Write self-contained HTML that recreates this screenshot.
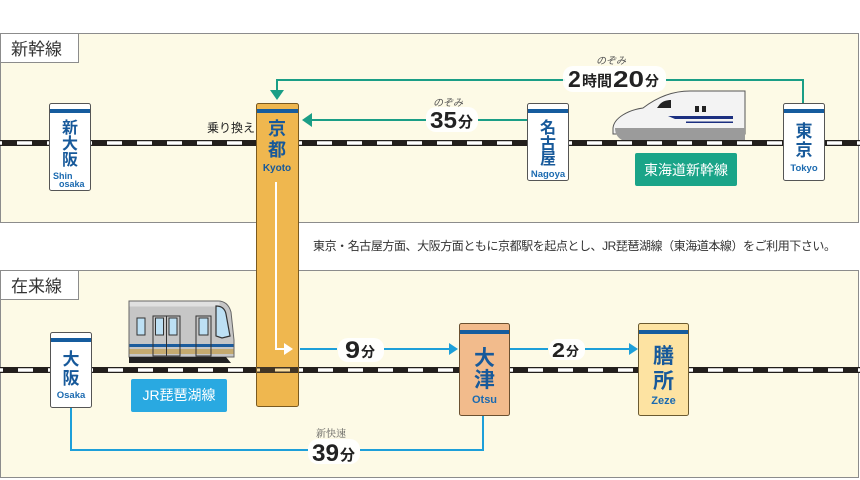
<!DOCTYPE html>
<html><head><meta charset="utf-8"><style>
html,body{margin:0;padding:0;background:#fff;}
svg{display:block;}
.jp{font-family:"Liberation Sans","Noto Sans CJK JP",sans-serif;}
</style></head><body>
<svg width="860" height="480" viewBox="0 0 860 480" xmlns="http://www.w3.org/2000/svg" class="jp">
<rect x="0" y="0" width="860" height="480" fill="#fff"/>
<!-- panels -->
<rect x="0.5" y="33.5" width="858" height="189" fill="#fdfae6" stroke="#8c8c8c"/>
<rect x="0.5" y="270.5" width="858" height="207" fill="#fdfae6" stroke="#8c8c8c"/>
<rect x="0.5" y="33.5" width="78" height="29" fill="#fff" stroke="#8c8c8c"/>
<rect x="0.5" y="270.5" width="78" height="29" fill="#fff" stroke="#8c8c8c"/>
<text x="11" y="55" font-size="17" fill="#333">新幹線</text>
<text x="11" y="292" font-size="17" fill="#333">在来線</text>

<!-- tracks -->
<rect x="0" y="140" width="860" height="6" fill="#231f1c"/>
<line x1="0" y1="143" x2="860" y2="143" stroke="#fff" stroke-width="3.4" stroke-dasharray="15 15" stroke-dashoffset="13"/>
<rect x="0" y="367" width="860" height="6" fill="#231f1c"/>
<line x1="0" y1="370" x2="860" y2="370" stroke="#fff" stroke-width="3.4" stroke-dasharray="15 15" stroke-dashoffset="12"/>

<!-- middle text -->
<text x="313" y="250" font-size="12" fill="#333" textLength="523" lengthAdjust="spacing">東京・名古屋方面、大阪方面ともに京都駅を起点とし、JR琵琶湖線（東海道本線）をご利用下さい。</text>

<!-- Kyoto tall box -->
<rect x="256.5" y="103.5" width="42" height="303" rx="2" fill="#efb74f" stroke="#7a5a20"/>
<rect x="257" y="109" width="41" height="4" fill="#155c9e"/>
<rect x="257" y="367" width="41" height="6" fill="#231f1c" opacity="0.85"/>
<line x1="257" y1="370" x2="298" y2="370" stroke="#f7dca0" stroke-width="3" stroke-dasharray="15 15" stroke-dashoffset="12"/>
<text x="277" y="135" font-size="18" font-weight="bold" fill="#17599a" text-anchor="middle">京</text>
<text x="277" y="156" font-size="18" font-weight="bold" fill="#17599a" text-anchor="middle">都</text>
<text x="277" y="171" font-size="10" font-weight="bold" fill="#17599a" text-anchor="middle">Kyoto</text>
<polyline points="276,182 276,349 286,349" fill="none" stroke="#fff" stroke-width="2"/>
<polygon points="284,343 293,349 284,355" fill="#fff"/>

<text x="207" y="132" font-size="12" fill="#222">乗り換え</text>

<!-- teal lines -->
<polyline points="803,103 803,80 666,80" fill="none" stroke="#1a9e86" stroke-width="2"/>
<polyline points="565,80 277,80 277,92" fill="none" stroke="#1a9e86" stroke-width="2"/>
<polygon points="270,90 284,90 277,100" fill="#1a9e86"/>
<line x1="527" y1="120" x2="478" y2="120" stroke="#1a9e86" stroke-width="2"/>
<line x1="426" y1="120" x2="310" y2="120" stroke="#1a9e86" stroke-width="2"/>
<polygon points="312,113 312,127 302,120" fill="#1a9e86"/>

<!-- 2h20 label -->
<rect x="563" y="66" width="103" height="26" rx="10" fill="#fff" opacity="0.9"/>
<text x="596" y="64" font-size="10" font-style="italic" fill="#555">のぞみ</text>
<text x="568" y="87" font-size="23" font-weight="bold" fill="#222">2</text>
<text x="582" y="86" font-size="15" font-weight="bold" fill="#222">時間</text>
<text x="613" y="87" font-size="23" font-weight="bold" fill="#222" textLength="31" lengthAdjust="spacingAndGlyphs">20</text>
<text x="645" y="86" font-size="14" font-weight="bold" fill="#222">分</text>

<!-- 35 label -->
<rect x="426" y="107" width="52" height="25" rx="10" fill="#fff" opacity="0.9"/>
<text x="433" y="106" font-size="10" font-style="italic" fill="#555">のぞみ</text>
<text x="430" y="128" font-size="23" font-weight="bold" fill="#222" textLength="27" lengthAdjust="spacingAndGlyphs">35</text>
<text x="458" y="127" font-size="15" font-weight="bold" fill="#222">分</text>

<!-- Shin-Osaka -->
<rect x="49.5" y="103.5" width="41" height="87" rx="2" fill="#fff" stroke="#555"/>
<rect x="50" y="109" width="40" height="4" fill="#155c9e"/>
<text x="70" y="133" font-size="16" font-weight="bold" fill="#17599a" text-anchor="middle">新</text>
<text x="70" y="149" font-size="16" font-weight="bold" fill="#17599a" text-anchor="middle">大</text>
<text x="70" y="165" font-size="16" font-weight="bold" fill="#17599a" text-anchor="middle">阪</text>
<text x="53" y="179" font-size="9" font-weight="bold" fill="#1b6ab0">Shin</text>
<text x="59" y="187" font-size="9" font-weight="bold" fill="#1b6ab0">osaka</text>

<!-- Nagoya -->
<rect x="527.5" y="103.5" width="41" height="77" rx="2" fill="#fff" stroke="#555"/>
<rect x="528" y="109" width="40" height="4" fill="#155c9e"/>
<text x="548" y="133" font-size="16" font-weight="bold" fill="#17599a" text-anchor="middle">名</text>
<text x="548" y="149" font-size="16" font-weight="bold" fill="#17599a" text-anchor="middle">古</text>
<text x="548" y="164" font-size="16" font-weight="bold" fill="#17599a" text-anchor="middle">屋</text>
<text x="548" y="177" font-size="9.5" font-weight="bold" fill="#1b6ab0" text-anchor="middle">Nagoya</text>

<!-- Shinkansen train -->
<path d="M745,91 L690,91 C672,91 656,98 643,108 C628,110 614,118 613,128 L613,134 L745,134 Z" fill="#f3f3f3" stroke="#555" stroke-width="1"/>
<path d="M615,128 L745,128 L745,140 L622,140 C618,138 615,134 615,128 Z" fill="#9b9b9b"/>
<path d="M660,104 C663,101 667,100 671,100 L671,108 L657,108 Z" fill="#222"/>
<rect x="695" y="106" width="4" height="6" fill="#222"/>
<rect x="702" y="106" width="4" height="6" fill="#222"/>
<path d="M668,116 L733,116 L733,119 L675,119 Z" fill="#1b2f80"/>
<rect x="686" y="121.5" width="47" height="1.5" fill="#1b2f80"/>

<rect x="635" y="153" width="102" height="33" rx="2" fill="#1aa488"/>
<text x="686" y="175" font-size="14" fill="#fff" text-anchor="middle">東海道新幹線</text>

<!-- Tokyo -->
<rect x="783.5" y="103.5" width="41" height="77" rx="2" fill="#fff" stroke="#555"/>
<rect x="784" y="109" width="40" height="4" fill="#155c9e"/>
<text x="804" y="137" font-size="17" font-weight="bold" fill="#17599a" text-anchor="middle">東</text>
<text x="804" y="156" font-size="17" font-weight="bold" fill="#17599a" text-anchor="middle">京</text>
<text x="804" y="171" font-size="9.5" font-weight="bold" fill="#1b6ab0" text-anchor="middle">Tokyo</text>

<!-- JR train -->
<path d="M129,301 L218,301 C225,301 229,305 231,312 L234,340 L234,357 L129,357 Z" fill="#c6c6c6" stroke="#666" stroke-width="1"/>
<rect x="129.5" y="301.5" width="90" height="5" fill="#e0e0e0"/>
<path d="M216,306 C222,306 225,309 226,314 L230,336 L222,338 L216,336 Z" fill="#bde0f4" stroke="#333" stroke-width="1.2"/>
<rect x="129.5" y="344" width="104" height="3" fill="#1c5c9c"/>
<rect x="129.5" y="349" width="104" height="5" fill="#c4aa70"/>
<path d="M129,357 L226,357 L231,363 L129,363 Z" fill="#222"/>
<rect x="137" y="318" width="8" height="17" fill="#bde0f4" stroke="#333" stroke-width="1"/>
<rect x="153" y="316" width="27" height="40" fill="none" stroke="#333" stroke-width="1"/>
<line x1="166.5" y1="316" x2="166.5" y2="356" stroke="#333" stroke-width="1"/>
<rect x="155.5" y="318" width="8" height="17" fill="#bde0f4" stroke="#333" stroke-width="1"/>
<rect x="169" y="318" width="8" height="17" fill="#bde0f4" stroke="#333" stroke-width="1"/>
<rect x="196" y="316" width="15" height="40" fill="none" stroke="#333" stroke-width="1"/>
<rect x="199" y="318" width="9" height="17" fill="#bde0f4" stroke="#333" stroke-width="1"/>

<rect x="131" y="379" width="96" height="33" rx="2" fill="#29a9e1"/>
<text x="179" y="400" font-size="14" fill="#fff" text-anchor="middle">JR琵琶湖線</text>

<!-- blue lines -->
<line x1="300" y1="349" x2="337" y2="349" stroke="#1d9fd9" stroke-width="2"/>
<line x1="384" y1="349" x2="450" y2="349" stroke="#1d9fd9" stroke-width="2"/>
<polygon points="449,343 458,349 449,355" fill="#1d9fd9"/>
<line x1="510" y1="349" x2="548" y2="349" stroke="#1d9fd9" stroke-width="2"/>
<line x1="585" y1="349" x2="630" y2="349" stroke="#1d9fd9" stroke-width="2"/>
<polygon points="629,343 638,349 629,355" fill="#1d9fd9"/>
<polyline points="71,408 71,450 308,450" fill="none" stroke="#1d9fd9" stroke-width="2"/>
<polyline points="360,450 483,450 483,416" fill="none" stroke="#1d9fd9" stroke-width="2"/>

<rect x="338" y="338" width="46" height="24" rx="10" fill="#fff" opacity="0.9"/>
<text x="345" y="358" font-size="24" font-weight="bold" fill="#222" textLength="15" lengthAdjust="spacingAndGlyphs">9</text>
<text x="361" y="357" font-size="14" font-weight="bold" fill="#222">分</text>

<rect x="549" y="339" width="36" height="21" rx="9" fill="#fff" opacity="0.9"/>
<text x="552" y="357" font-size="20" font-weight="bold" fill="#222" textLength="13" lengthAdjust="spacingAndGlyphs">2</text>
<text x="566" y="356" font-size="13" font-weight="bold" fill="#222">分</text>

<rect x="308" y="439" width="52" height="25" rx="10" fill="#fff" opacity="0.9"/>
<text x="316" y="437" font-size="10" fill="#555" style="font-family:'Liberation Serif','Noto Serif CJK SC',serif">新快速</text>
<text x="312" y="461" font-size="24" font-weight="bold" fill="#222" textLength="27" lengthAdjust="spacingAndGlyphs">39</text>
<text x="340" y="460" font-size="15" font-weight="bold" fill="#222">分</text>

<!-- Osaka -->
<rect x="50.5" y="332.5" width="41" height="75" rx="2" fill="#fff" stroke="#555"/>
<rect x="51" y="338" width="40" height="4" fill="#155c9e"/>
<text x="71" y="365" font-size="17" font-weight="bold" fill="#17599a" text-anchor="middle">大</text>
<text x="71" y="384" font-size="17" font-weight="bold" fill="#17599a" text-anchor="middle">阪</text>
<text x="71" y="398" font-size="9.5" font-weight="bold" fill="#1b6ab0" text-anchor="middle">Osaka</text>

<!-- Otsu -->
<rect x="459.5" y="323.5" width="50" height="92" rx="2" fill="#f2bb8c" stroke="#6b5030"/>
<rect x="460" y="330" width="49" height="4" fill="#155c9e"/>
<text x="484.5" y="365" font-size="21" font-weight="bold" fill="#17599a" text-anchor="middle">大</text>
<text x="484.5" y="387" font-size="21" font-weight="bold" fill="#17599a" text-anchor="middle">津</text>
<text x="484.5" y="403" font-size="11" font-weight="bold" fill="#1b6ab0" text-anchor="middle">Otsu</text>

<!-- Zeze -->
<rect x="638.5" y="323.5" width="50" height="92" rx="2" fill="#fde3a2" stroke="#6b5a30"/>
<rect x="639" y="330" width="49" height="4" fill="#155c9e"/>
<text x="663.5" y="363" font-size="21" font-weight="bold" fill="#17599a" text-anchor="middle">膳</text>
<text x="663.5" y="388" font-size="21" font-weight="bold" fill="#17599a" text-anchor="middle">所</text>
<text x="663.5" y="404" font-size="11" font-weight="bold" fill="#1b6ab0" text-anchor="middle">Zeze</text>
</svg>
</body></html>
